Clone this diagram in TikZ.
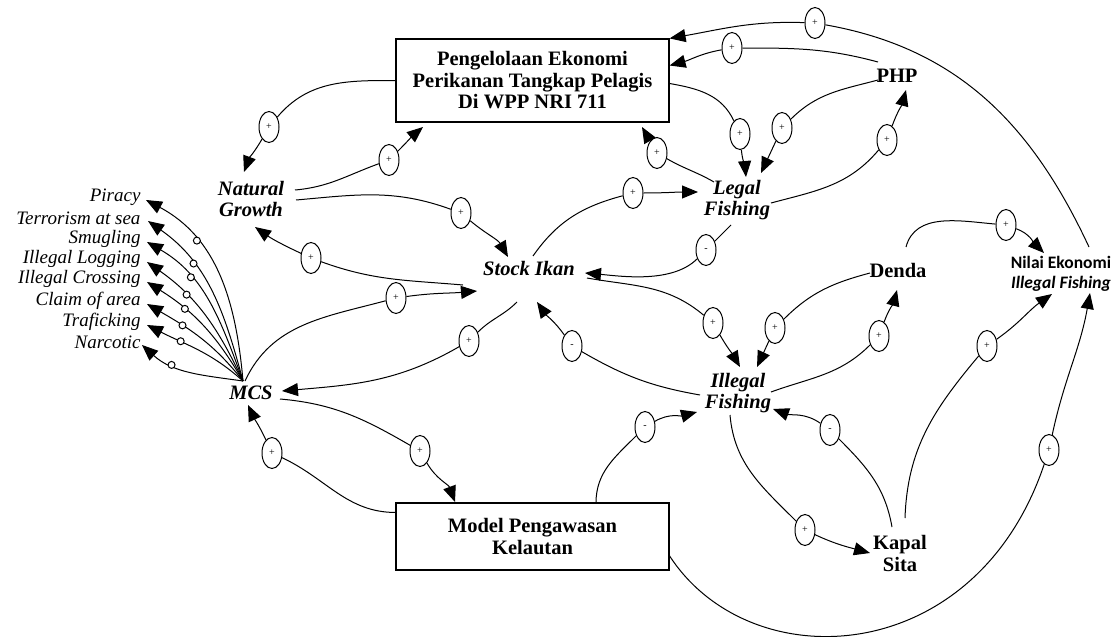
\documentclass[tikz,border=0pt]{standalone}
\usepackage{fontspec}
\setmainfont{Liberation Serif}
\newfontfamily\nilaifont{Carlito}
\usetikzlibrary{arrows.meta,calc,shapes.geometric}

\begin{document}
\begin{tikzpicture}[
 x=1pt,y=1pt,line width=1pt,
 >={Triangle[length=16pt,width=13pt]},
 box/.style={draw,line width=1.2pt,minimum width=273pt,align=center,
   font=\bfseries\fontsize{20.5}{21.5}\selectfont},
 var/.style={align=center,inner sep=1pt,
   font=\bfseries\itshape\fontsize{20.5}{21}\selectfont},
 word/.style={align=center,inner sep=1pt,
   font=\bfseries\fontsize{20.5}{22}\selectfont},
 threat/.style={anchor=east,inner sep=1pt,font=\itshape\fontsize{19}{19}\selectfont},
 pol/.style={draw,ellipse,fill=white,minimum width=20pt,minimum height=31pt,
   inner sep=0pt,font=\fontsize{10}{10}\selectfont},
 dot/.style={draw,circle,fill=white,minimum size=7pt,inner sep=0pt}
]
\useasboundingbox (0,0) rectangle (1120,-637);
\node[box,minimum height=83pt] (pengelolaan) at (532.5,-80.5)
 {Pengelolaan Ekonomi\\Perikanan Tangkap Pelagis\\Di WPP NRI 711};
\node[box,minimum height=67pt,font=\bfseries\fontsize{20.5}{22}\selectfont]
 (model) at (532.5,-536.5) {Model Pengawasan\\Kelautan};
\node[var] (natural) at (251,-199) {Natural\\Growth};
\node[var] (legal) at (737,-200) {Legal\\Fishing};
\node[var] (stock) at (529,-268) {Stock Ikan};
\node[var] (illegal) at (738,-393) {Illegal\\Fishing};
\node[var] (mcs) at (251,-393) {MCS};
\node[word] (php) at (897,-76) {PHP};
\node[word] (denda) at (898,-270) {Denda};
\node[word] (kapal) at (900,-553) {Kapal\\Sita};
\node[align=center,inner sep=1pt,font=\nilaifont\bfseries\fontsize{17.5}{20}\selectfont]
 (nilai) at (1061,-274) {Nilai Ekonomi\\\textit{Illegal Fishing}};

\node[threat] (piracy) at (142,-197) {Piracy};
\node[threat] (terrorism) at (142,-218) {Terrorism at sea};
\node[threat] (smugling) at (142,-239) {Smugling};
\node[threat] (logging) at (142,-259) {Illegal Logging};
\node[threat] (crossing) at (142,-279) {Illegal Crossing};
\node[threat] (claim) at (142,-301) {Claim of area};
\node[threat] (traficking) at (142,-322) {Traficking};
\node[threat] (narcotic) at (142,-342) {Narcotic};

\node[pol] (p1) at (269,-127) {+};
\node[pol] (p2) at (389,-160) {+};
\node[pol] (p3) at (461,-213) {+};
\node[pol] (p4) at (311,-258) {+};
\node[pol] (p5) at (396,-298) {+};
\node[pol] (p6) at (469,-341) {+};
\node[pol] (p7) at (420,-451) {+};
\node[pol] (p8) at (272,-453) {+};
\node[pol] (p9) at (645,-427) {-};
\node[pol] (p10) at (1049,-450) {+};
\node[pol] (p11) at (805,-530) {+};
\node[pol] (p12) at (830,-430) {-};
\node[pol] (p13) at (987,-346) {+};
\node[pol] (p14) at (815,-23) {+};
\node[pol] (p15) at (732,-48) {+};
\node[pol] (p16) at (740,-134) {+};
\node[pol] (p17) at (782,-128) {+};
\node[pol] (p18) at (657,-153) {+};
\node[pol] (p19) at (887,-140) {+};
\node[pol] (p20) at (633,-193) {+};
\node[pol] (p21) at (706,-250) {-};
\node[pol] (p22) at (713,-323) {+};
\node[pol] (p23) at (572,-346) {-};
\node[pol] (p24) at (775,-328) {+};
\node[pol] (p25) at (879,-336) {+};
\node[pol] (p26) at (1006,-225) {+};

\draw[->] (pengelolaan.west) to[out=180,in=50] (p1) to[out=-120,in=70] ($(natural)+(-7,27)$);
\draw[->] ($(natural)+(44,9)$) to[out=5,in=200] (p2) to[out=45,in=220] ($(pengelolaan)+(-109.5,-46.5)$);
\draw[->] ($(natural)+(45,-1)$) to[out=5,in=160] (p3) to[out=-40,in=120] ($(stock)+(-21,11)$);
\draw[->] ($(stock)+(-66,-17)$) to[out=175,in=-20] (p4) to[out=155,in=-35] ($(natural)+(4,-28)$);
\draw[->] ($(mcs)+(-6,12)$) to[out=65,in=195] (p5) to[out=8,in=185] ($(stock)+(-52,-23)$);
\draw[->] ($(stock)+(-12,-34)$) to[out=-135,in=45] (p6) to[out=-150,in=5] ($(mcs)+(31,2)$);
\draw[->] ($(mcs)+(29,-6)$) to[out=-5,in=150] (p7) to[out=-60,in=110] ($(model)+(-77.5,34.5)$);
\draw[->] ($(model)+(-136.5,24)$) to[out=180,in=-25] (p8) to[out=115,in=-65] ($(mcs)+(-3,-12)$);
\draw[->] ($(model)+(63.5,33.5)$) to[out=90,in=-135] (p9) to[out=30,in=195] ($(illegal)+(-41,-19)$);
\draw[->] ($(model)+(136.5,-18.5)$) .. controls +(80,-125) and +(-74,-220) .. (p10)
 to[out=78,in=-100] ($(nilai)+(29,-19)$);
\draw[->] ($(illegal)+(-8,-22)$) to[out=-85,in=135] (p11) to[out=-25,in=165] ($(kapal)+(-30,0)$);
\draw[->] ($(kapal)+(-8,26)$) to[out=100,in=-45] (p12) to[out=145,in=-20] ($(illegal)+(35,-16)$);
\draw[->] ($(kapal)+(5,35)$) to[out=88,in=-130] (p13) to[out=35,in=-145] ($(nilai)+(-9,-20)$);
\draw[->] ($(nilai)+(28,27)$) to[out=115,in=-10] (p14) to[out=178,in=10] (pengelolaan.north east);
\draw[->] ($(php)+(-19,14)$) to[out=165,in=0] (p15) to[out=190,in=15] ($(pengelolaan.east)+(0,15)$);
\draw[->] ($(pengelolaan.east)+(0,-3)$) to[out=-10,in=115] (p16) to[out=-85,in=95] ($(legal)+(9,23)$);
\draw[->] ($(php)+(-19,-4)$) to[out=195,in=45] (p17) to[out=-115,in=65] ($(legal)+(24,27)$);
\draw[->] ($(legal)+(-23,18)$) to[out=150,in=-30] (p18) to[out=120,in=-60] ($(pengelolaan)+(109.5,-46.5)$);
\draw[->] ($(legal)+(34,-3)$) to[out=15,in=-130] (p19) to[out=70,in=-105] ($(php)+(9,-14)$);
\draw[->] ($(stock)+(4,12)$) to[out=55,in=195] (p20) to[out=0,in=180] ($(legal)+(-39,8)$);
\draw[->] ($(legal)+(-6,-25)$) to[out=-135,in=45] (p21) to[out=-135,in=-5,looseness=.8] ($(stock)+(56,-5)$);
\draw[->] ($(stock)+(58,-10)$) to[out=-10,in=140] (p22) to[out=-60,in=120] ($(illegal)+(2,26)$);
\draw[->] ($(illegal)+(-38,-2)$) to[out=170,in=-30] (p23) to[out=125,in=-55] ($(stock)+(8,-34)$);
\draw[->] ($(denda)+(-28,-3)$) to[out=195,in=45] (p24) to[out=-115,in=65] ($(illegal)+(19,26)$);
\draw[->] ($(illegal)+(33,1)$) to[out=20,in=-135] (p25) to[out=70,in=-105] ($(denda)+(-1,-20)$);
\draw[->] ($(denda)+(8,23)$) to[out=75,in=175] (p26) to[out=-20,in=135] ($(nilai)+(-17,21)$);

\draw[->] ($(mcs)+(-8,12)$) to[out=95,in=-28] node[dot,pos=.7]{} ($(piracy.east)+(4,-3)$);
\draw[->] ($(mcs)+(-8,12)$) to[out=105,in=-35] node[dot,pos=.68]{} ($(terrorism.east)+(6,-3)$);
\draw[->] ($(mcs)+(-8,12)$) to[out=110,in=-30] node[dot,pos=.68]{} ($(smugling.east)+(5,-3)$);
\draw[->] ($(mcs)+(-8,12)$) to[out=115,in=-35] node[dot,pos=.68]{} ($(logging.east)+(5,-3)$);
\draw[->] ($(mcs)+(-8,12)$) to[out=120,in=-32] node[dot,pos=.68]{} ($(crossing.east)+(5,-3)$);
\draw[->] ($(mcs)+(-8,12)$) to[out=128,in=-30] node[dot,pos=.68]{} ($(claim.east)+(5,-3)$);
\draw[->] ($(mcs)+(-8,12)$) to[out=138,in=-27] node[dot,pos=.68]{} ($(traficking.east)+(5,-3)$);
\draw[->] ($(mcs)+(-8,12)$) to[out=172,in=-42] node[dot,pos=.68]{} ($(narcotic.east)+(0,-3)$);
\end{tikzpicture}
\end{document}
